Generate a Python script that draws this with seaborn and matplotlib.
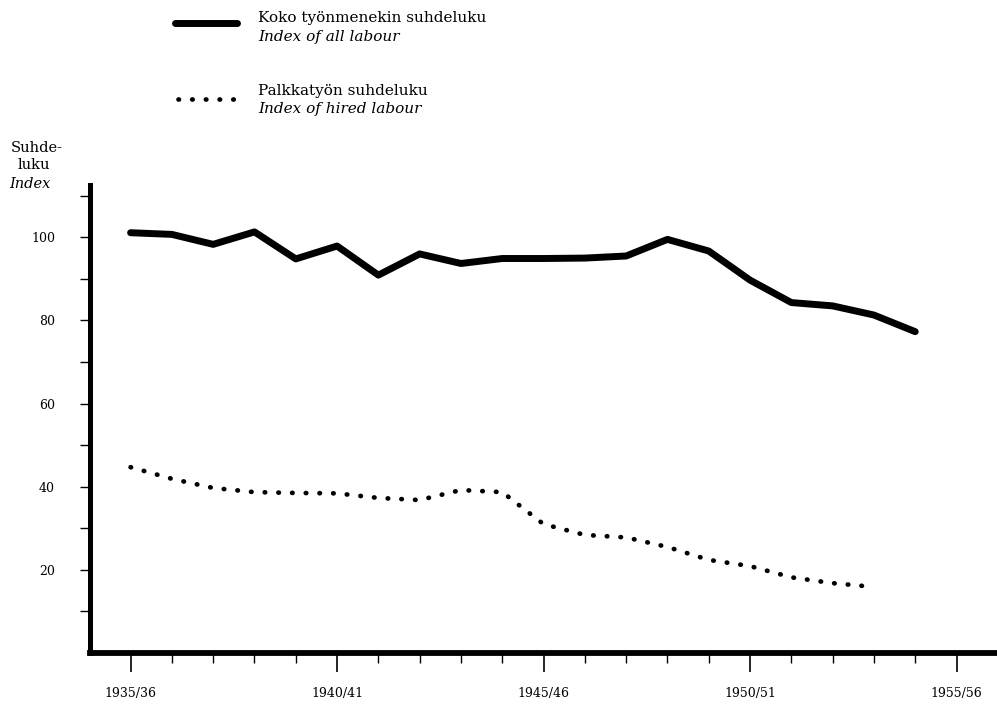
import numpy as np
import pandas as pd
import seaborn as sns
import matplotlib.pyplot as plt
from matplotlib.lines import Line2D

# Vuodet (satovuosi alkaa) ja suhdeluvut luettuna kuvasta
YEARS_ALL = list(range(1935, 1955))
ALL_LABOUR = [101.1, 100.7, 98.3, 101.3, 94.8, 97.9, 90.9, 96.0, 93.7, 94.9,
              94.9, 95.0, 95.5, 99.5, 96.7, 89.7, 84.3, 83.5, 81.3, 77.3]

YEARS_HIRED = list(range(1935, 1954))
HIRED_LABOUR = [44.7, 41.9, 39.7, 38.7, 38.5, 38.4, 37.3, 36.8, 39.2, 38.7,
                31.0, 28.4, 27.8, 25.5, 22.4, 20.9, 18.2, 16.8, 15.9]

MAJOR_YEARS = [1935, 1940, 1945, 1950, 1955]
MAJOR_LABELS = ["1935/36", "1940/41", "1945/46", "1950/51", "1955/56"]
Y_LABELS = [20, 40, 60, 80, 100]

W, H = 997, 709
Y0_PX, Y100_PX, YTOP_PX = 653.0, 237.3, 185.0

sns.set_style("ticks")
plt.rcParams["font.family"] = ["DejaVu Serif"]
plt.rcParams["text.color"] = "black"
plt.rcParams["xtick.color"] = "black"
plt.rcParams["ytick.color"] = "black"

df_all = pd.DataFrame({"year": YEARS_ALL, "index": ALL_LABOUR})
df_hired = pd.DataFrame({"year": YEARS_HIRED, "index": HIRED_LABOUR})

fig = plt.figure(figsize=(W / 100, H / 100), dpi=100)
ax = fig.add_axes([89.7 / W, 1 - Y0_PX / H, 1 - 89.7 / W, (Y0_PX - YTOP_PX) / H])

sns.lineplot(data=df_all, x="year", y="index", ax=ax, color="black",
             lw=5.0, solid_capstyle="round", solid_joinstyle="round")
sns.lineplot(data=df_hired, x="year", y="index", ax=ax, color="black",
             lw=3.4, linestyle=(0, (0.1, 2.8)), dash_capstyle="round")

ax.set_xlim(1934.01, 1955.98)
ax.set_ylim(0, 100 * (Y0_PX - YTOP_PX) / (Y0_PX - Y100_PX))

ax.set_xticks(MAJOR_YEARS)
ax.set_xticklabels(MAJOR_LABELS, fontsize=9)
ax.set_xticks(YEARS_ALL + [1955], minor=True)
ax.set_yticks(Y_LABELS)
ax.set_yticklabels([str(v) for v in Y_LABELS], fontsize=9)
ax.set_yticks(range(10, 111, 10), minor=True)

ax.tick_params(axis="x", which="major", length=13.5, width=1.2, pad=11, direction="out")
ax.tick_params(axis="x", which="minor", length=7, width=1.0, direction="out")
ax.tick_params(axis="y", which="both", length=7, width=1.0, pad=18, direction="out")

ax.set_xlabel("")
ax.set_ylabel("")
sns.despine(ax=ax)
for side in ["left", "bottom"]:
    ax.spines[side].set_color("black")
ax.spines["left"].set_linewidth(3.6)
ax.spines["bottom"].set_linewidth(4.2)

# Y-akselin otsikko
fig.text(36.5 / W, 1 - 151.7 / H, "Suhde-", ha="center", va="baseline", fontsize=10.5)
fig.text(34 / W, 1 - 169.3 / H, "luku", ha="center", va="baseline", fontsize=10.5)
fig.text(9 / W, 1 - 188.3 / H, "Index", ha="left", va="baseline", fontsize=10.5,
         style="italic")

# Selite
fig.add_artist(Line2D([175 / W, 237 / W], [1 - 23.3 / H, 1 - 23.3 / H],
                      color="black", lw=5.0, solid_capstyle="round"))
fig.add_artist(Line2D([178 / W, 234 / W], [1 - 99.3 / H, 1 - 99.3 / H],
                      color="black", lw=3.4, linestyle=(0, (0.1, 2.8)),
                      dash_capstyle="round"))
fig.text(258 / W, 1 - 22 / H, "Koko työnmenekin suhdeluku", ha="left",
         va="baseline", fontsize=11)
fig.text(258 / W, 1 - 40.5 / H, "Index of all labour", ha="left",
         va="baseline", fontsize=11, style="italic")
fig.text(258 / W, 1 - 94.5 / H, "Palkkatyön suhdeluku", ha="left",
         va="baseline", fontsize=11)
fig.text(258 / W, 1 - 113 / H, "Index of hired labour", ha="left",
         va="baseline", fontsize=11, style="italic")

fig.savefig("out.png", dpi=100)
